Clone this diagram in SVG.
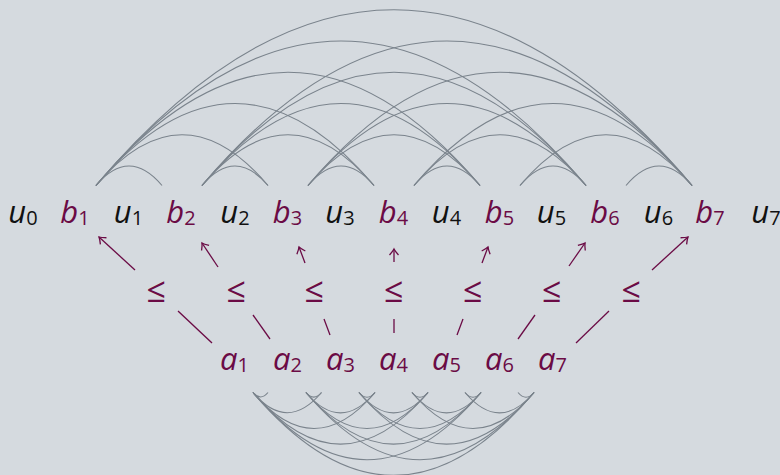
<svg xmlns="http://www.w3.org/2000/svg" width="780" height="475" viewBox="0 0 780 475">
<defs>
<style>
.lbl{font-family:"Open Sans","Noto Sans",sans-serif;font-style:italic;font-size:31px;text-anchor:middle}
.sub{font-style:normal;font-size:20px}
.k{fill:#111111}
.p{fill:#6b0b45}
.le{font-family:"Open Sans","Noto Sans",sans-serif;font-size:34px;fill:#6b0b45;text-anchor:middle}
.arc{fill:none;stroke:#7a838c;stroke-width:1.1}
.arr{fill:none;stroke:#6b0b45;stroke-width:1.3}
</style>
<marker id="to" viewBox="-8 -6 10 12" markerWidth="10" markerHeight="12" refX="0" refY="0" orient="auto" markerUnits="userSpaceOnUse">
<path d="M -6 -4.5 Q -2 -1 0 0 Q -2 1 -6 4.5" fill="none" stroke="#6b0b45" stroke-width="1.3"/>
</marker>
</defs>
<rect width="780" height="475" fill="#d5dadf"/>
<g id="connectors">
<g id="top-arcs">
<path class="arc" d="M96 185.5 Q129 146.56 162 185.5"/>
<path class="arc" d="M96 185.5 Q182 84.02 268 185.5"/>
<path class="arc" d="M96 185.5 Q235 21.48 374 185.5"/>
<path class="arc" d="M96 185.5 Q288 -41.06 480 185.5"/>
<path class="arc" d="M96 185.5 Q341 -103.6 586 185.5"/>
<path class="arc" d="M96 185.5 Q394 -166.14 692 185.5"/>
<path class="arc" d="M202 185.5 Q235 146.56 268 185.5"/>
<path class="arc" d="M202 185.5 Q288 84.02 374 185.5"/>
<path class="arc" d="M202 185.5 Q341 21.48 480 185.5"/>
<path class="arc" d="M202 185.5 Q394 -41.06 586 185.5"/>
<path class="arc" d="M202 185.5 Q447 -103.6 692 185.5"/>
<path class="arc" d="M308 185.5 Q341 146.56 374 185.5"/>
<path class="arc" d="M308 185.5 Q394 84.02 480 185.5"/>
<path class="arc" d="M308 185.5 Q447 21.48 586 185.5"/>
<path class="arc" d="M308 185.5 Q500 -41.06 692 185.5"/>
<path class="arc" d="M414 185.5 Q447 146.56 480 185.5"/>
<path class="arc" d="M414 185.5 Q500 84.02 586 185.5"/>
<path class="arc" d="M414 185.5 Q553 21.48 692 185.5"/>
<path class="arc" d="M520 185.5 Q553 146.56 586 185.5"/>
<path class="arc" d="M520 185.5 Q606 84.02 692 185.5"/>
<path class="arc" d="M626 185.5 Q659 146.56 692 185.5"/>
</g>
<g id="bottom-arcs">
<path class="arc" d="M253 392.5 Q260.5 401.35 268 392.5"/>
<path class="arc" d="M253 392.5 Q287.25 432.9 321.5 392.5"/>
<path class="arc" d="M253 392.5 Q314 464.48 375 392.5"/>
<path class="arc" d="M253 392.5 Q340.5 495.75 428 392.5"/>
<path class="arc" d="M253 392.5 Q367 527.02 481 392.5"/>
<path class="arc" d="M253 392.5 Q393.5 558.29 534 392.5"/>
<path class="arc" d="M306 392.5 Q313.75 401.65 321.5 392.5"/>
<path class="arc" d="M306 392.5 Q340.5 433.21 375 392.5"/>
<path class="arc" d="M306 392.5 Q367 464.48 428 392.5"/>
<path class="arc" d="M306 392.5 Q393.5 495.75 481 392.5"/>
<path class="arc" d="M306 392.5 Q420 527.02 534 392.5"/>
<path class="arc" d="M359 392.5 Q367 401.94 375 392.5"/>
<path class="arc" d="M359 392.5 Q393.5 433.21 428 392.5"/>
<path class="arc" d="M359 392.5 Q420 464.48 481 392.5"/>
<path class="arc" d="M359 392.5 Q446.5 495.75 534 392.5"/>
<path class="arc" d="M412 392.5 Q420 401.94 428 392.5"/>
<path class="arc" d="M412 392.5 Q446.5 433.21 481 392.5"/>
<path class="arc" d="M412 392.5 Q473 464.48 534 392.5"/>
<path class="arc" d="M465 392.5 Q473 401.94 481 392.5"/>
<path class="arc" d="M465 392.5 Q499.5 433.21 534 392.5"/>
<path class="arc" d="M518 392.5 Q526 401.94 534 392.5"/>
</g>
<g id="arrows">
<path class="arr" d="M212 343 L178 311"/>
<path class="arr" d="M135 270 L99 237" marker-end="url(#to)"/>
<path class="arr" d="M270 339 L253 315"/>
<path class="arr" d="M218 267 L202 243" marker-end="url(#to)"/>
<path class="arr" d="M330 335 L324 319"/>
<path class="arr" d="M305 263 L299 247" marker-end="url(#to)"/>
<path class="arr" d="M394 333 L394 319"/>
<path class="arr" d="M394 262 L394 249" marker-end="url(#to)"/>
<path class="arr" d="M457 335 L463 319"/>
<path class="arr" d="M482 263 L488 247" marker-end="url(#to)"/>
<path class="arr" d="M518 339 L535 315"/>
<path class="arr" d="M569 266 L585 243" marker-end="url(#to)"/>
<path class="arr" d="M576 343 L609 311"/>
<path class="arr" d="M652 270 L688 237" marker-end="url(#to)"/>
</g>
</g>
<g id="u0"><text class="lbl k" x="23" y="223">u<tspan class="sub" dy="2">0</tspan></text></g>
<g id="b1"><text class="lbl p" x="75" y="223">b<tspan class="sub" dy="2">1</tspan></text></g>
<g id="u1"><text class="lbl k" x="128.5" y="223">u<tspan class="sub" dy="2">1</tspan></text></g>
<g id="b2"><text class="lbl p" x="181" y="223">b<tspan class="sub" dy="2">2</tspan></text></g>
<g id="u2"><text class="lbl k" x="235" y="223">u<tspan class="sub" dy="2">2</tspan></text></g>
<g id="b3"><text class="lbl p" x="287.5" y="223">b<tspan class="sub" dy="2">3</tspan></text></g>
<g id="u3"><text class="lbl k" x="340" y="223">u<tspan class="sub" dy="2">3</tspan></text></g>
<g id="b4"><text class="lbl p" x="393.5" y="223">b<tspan class="sub" dy="2">4</tspan></text></g>
<g id="u4"><text class="lbl k" x="446.5" y="223">u<tspan class="sub" dy="2">4</tspan></text></g>
<g id="b5"><text class="lbl p" x="499.5" y="223">b<tspan class="sub" dy="2">5</tspan></text></g>
<g id="u5"><text class="lbl k" x="551.5" y="223">u<tspan class="sub" dy="2">5</tspan></text></g>
<g id="b6"><text class="lbl p" x="605" y="223">b<tspan class="sub" dy="2">6</tspan></text></g>
<g id="u6"><text class="lbl k" x="658.5" y="223">u<tspan class="sub" dy="2">6</tspan></text></g>
<g id="b7"><text class="lbl p" x="710" y="223">b<tspan class="sub" dy="2">7</tspan></text></g>
<g id="u7"><text class="lbl k" x="766" y="223">u<tspan class="sub" dy="2">7</tspan></text></g>
<g id="le1"><text class="le" x="156" y="302">≤</text></g>
<g id="le2"><text class="le" x="236" y="302">≤</text></g>
<g id="le3"><text class="le" x="314" y="302">≤</text></g>
<g id="le4"><text class="le" x="393.5" y="302">≤</text></g>
<g id="le5"><text class="le" x="472.5" y="302">≤</text></g>
<g id="le6"><text class="le" x="551.5" y="302">≤</text></g>
<g id="le7"><text class="le" x="631" y="302">≤</text></g>
<g id="a1"><text class="lbl p" x="234.5" y="370">a<tspan class="sub" dy="2">1</tspan></text></g>
<g id="a2"><text class="lbl p" x="287.5" y="370">a<tspan class="sub" dy="2">2</tspan></text></g>
<g id="a3"><text class="lbl p" x="340.5" y="370">a<tspan class="sub" dy="2">3</tspan></text></g>
<g id="a4"><text class="lbl p" x="393.5" y="370">a<tspan class="sub" dy="2">4</tspan></text></g>
<g id="a5"><text class="lbl p" x="446.5" y="370">a<tspan class="sub" dy="2">5</tspan></text></g>
<g id="a6"><text class="lbl p" x="499.5" y="370">a<tspan class="sub" dy="2">6</tspan></text></g>
<g id="a7"><text class="lbl p" x="552.5" y="370">a<tspan class="sub" dy="2">7</tspan></text></g>
</svg>
